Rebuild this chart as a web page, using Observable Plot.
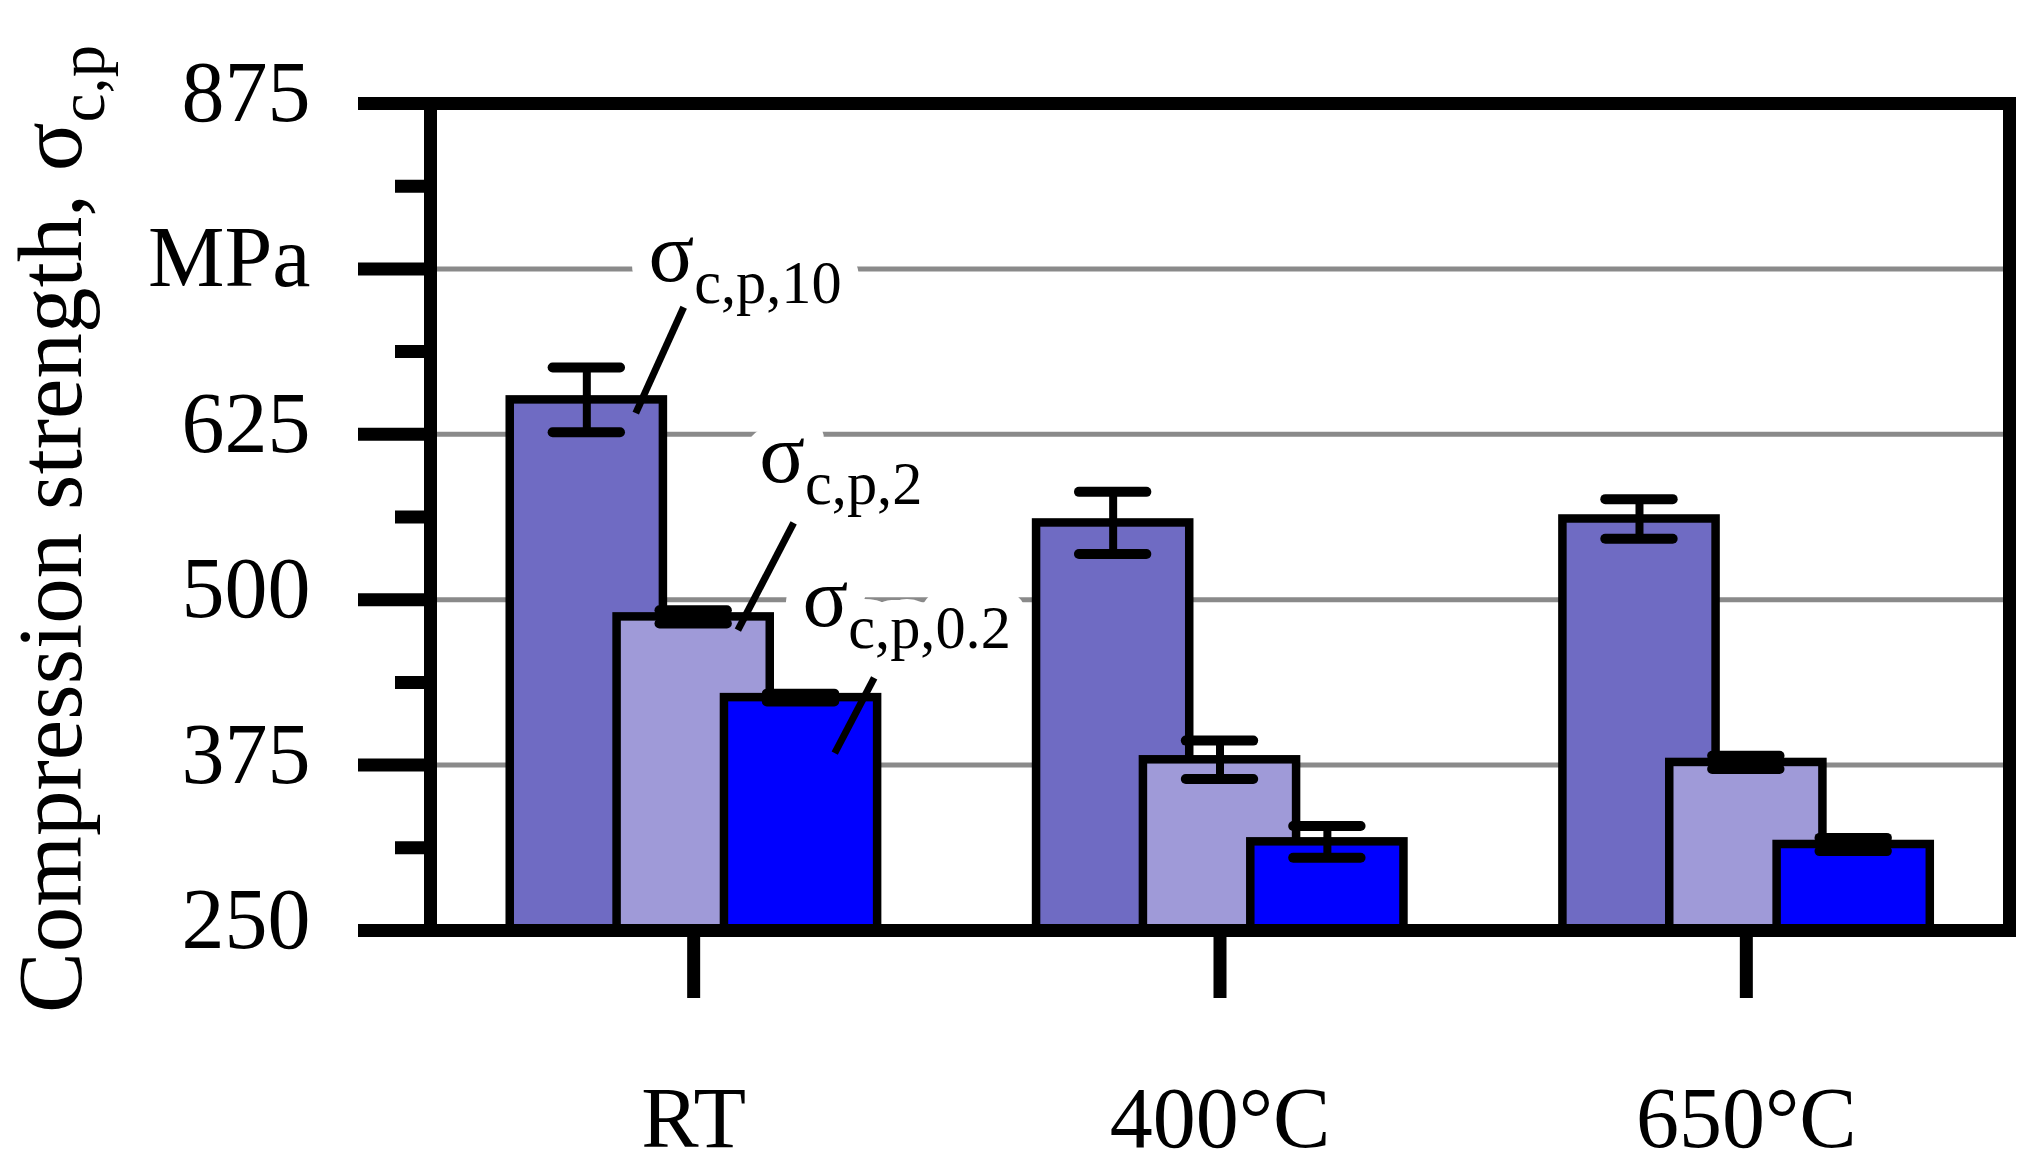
<!DOCTYPE html>
<html>
<head>
<meta charset="utf-8">
<script src="https://cdn.jsdelivr.net/npm/d3@7"></script>
<script src="https://cdn.jsdelivr.net/npm/@observablehq/plot@0.6"></script>
<style>
  html, body { margin: 0; padding: 0; background: #ffffff; }
  #chart svg { display: block; }
</style>
</head>
<body>
<div id="chart"></div>
<script>
// ---- data ----
const categories = ["RT", "400°C", "650°C"];
const seriesNames = ["σ{c,p,10}", "σ{c,p,2}", "σ{c,p,0.2}"];
const sigma10 = [651, 558, 561];
const sigma10Err = [24.5, 23.5, 15];
const sigma2 = [487, 379, 377];
const sigma2Err = [5, 14.5, 5];
const sigma02 = [426, 317, 315];
const sigma02Err = [3, 12, 5];

const yDomain = [250, 875];
const yMajorTicks = [250, 375, 500, 625, 750, 875];
const yMajorLabels = ["250", "375", "500", "625", "MPa", "875"];
const yMinorTicks = [312.5, 437.5, 562.5, 687.5, 812.5];
const gridValues = [375, 500, 625, 750];
const yTitle = "Compression strength, σ{c,p}";

// annotation anchors (data units: x = group index position, y = MPa)
const annotationX = [0.414, 0.6245, 0.7067];
const annotationY = [741, 589, 480.5];
const leaderX1 = [0.481, 0.690, 0.843];
const leaderY1 = [721, 558, 441];
const leaderX2 = [0.390, 0.584, 0.768];
const leaderY2 = [641, 477, 384];

// ---- styles ----
const seriesValues = [sigma10, sigma2, sigma02];
const seriesErrors = [sigma10Err, sigma2Err, sigma02Err];
const seriesFill = ["#6f6bc3", "#9f9ad8", "#0000ff"];
const seriesOffset = [-0.203, 0, 0.204];
const barHalf = 0.1455;
const capHalf = 0.064;
const FONT = "'Liberation Serif', 'Times New Roman', serif";

const marks = [];
marks.push(Plot.ruleY(gridValues, {y: d => d, stroke: "#8a8a8a", strokeWidth: 5}));

seriesValues.forEach((vals, s) => {
  const rows = categories.map((c, i) => ({i, c, v: vals[i], e: seriesErrors[s][i]}));
  const cx = d => d.i + 0.5 + seriesOffset[s];
  marks.push(Plot.rect(rows, {
    x1: d => cx(d) - barHalf, x2: d => cx(d) + barHalf,
    y1: () => yDomain[0], y2: "v",
    fill: seriesFill[s], stroke: "black", strokeWidth: 8.5
  }));
  marks.push(Plot.ruleX(rows, {x: cx, y1: d => d.v - d.e, y2: d => d.v + d.e, stroke: "black", strokeWidth: 8}));
  const caps = rows.flatMap(d => [{...d, y: d.v - d.e}, {...d, y: d.v + d.e}]);
  marks.push(Plot.ruleY(caps, {y: "y", x1: d => cx(d) - capHalf, x2: d => cx(d) + capHalf,
    stroke: "black", strokeWidth: 10, strokeLinecap: "round"}));
});

// annotations: white backing, then the label, then leader lines
const ann = seriesNames.map((t, k) => ({t, x: annotationX[k], y: annotationY[k],
  x1: leaderX1[k], y1: leaderY1[k], x2: leaderX2[k], y2: leaderY2[k]}));
marks.push(Plot.text(ann, {x: "x", y: "y", text: "t", textAnchor: "start", lineAnchor: "bottom",
  fontSize: 85, fontFamily: FONT, fill: "white", stroke: "white", strokeWidth: 40}));
marks.push(Plot.text(ann, {x: "x", y: "y", text: "t", textAnchor: "start", lineAnchor: "bottom",
  fontSize: 85, fontFamily: FONT, fill: "black"}));
marks.push(Plot.link(ann, {x1: "x1", y1: "y1", x2: "x2", y2: "y2", stroke: "black", strokeWidth: 7}));

// frame and axes
marks.push(Plot.frame({stroke: "black", strokeWidth: 13}));
marks.push(Plot.axisY({ticks: yMajorTicks, tickSize: 72, strokeWidth: 13, tickFormat: () => "", label: null}));
marks.push(Plot.axisY({ticks: yMinorTicks, tickSize: 35, strokeWidth: 13, tickFormat: () => "", label: null}));
marks.push(Plot.axisY({ticks: yMajorTicks, tickSize: 0, tickPadding: 120, dy: -10,
  tickFormat: d => yMajorLabels[yMajorTicks.indexOf(d)], fontSize: 86, fontFamily: FONT, label: null}));
marks.push(Plot.axisX({ticks: categories.map((c, i) => i + 0.5), tickSize: 68, tickPadding: 87, strokeWidth: 13,
  tickFormat: d => categories[Math.floor(d)], fontSize: 86, fontFamily: FONT, label: null}));
marks.push(Plot.text([yTitle], {frameAnchor: "left", dx: -350, dy: 12, rotate: -90, textAnchor: "middle",
  lineAnchor: "bottom", fontSize: 91, fontFamily: FONT, fill: "black"}));

const chart = Plot.plot({
  width: 2033,
  height: 1173,
  marginLeft: 430,
  marginRight: 24,
  marginTop: 103,
  marginBottom: 243,
  style: {fontFamily: FONT, background: "white", color: "black", overflow: "visible"},
  x: {type: "linear", domain: [0, categories.length]},
  y: {domain: yDomain},
  marks
});

// subscripts: "base{sub}" -> base + subscript tspan
const NS = "http://www.w3.org/2000/svg";
chart.querySelectorAll("text").forEach(t => {
  if (t.querySelector("tspan")) return;
  const m = (t.textContent || "").match(/^(.*)\{(.*)\}$/);
  if (!m) return;
  t.textContent = "";
  const a = document.createElementNS(NS, "tspan");
  a.textContent = m[1];
  const b = document.createElementNS(NS, "tspan");
  b.textContent = m[2];
  b.setAttribute("font-size", "0.71em");
  b.setAttribute("dy", "0.37em");
  t.appendChild(a);
  t.appendChild(b);
});

document.getElementById("chart").appendChild(chart);
</script>
</body>
</html>
